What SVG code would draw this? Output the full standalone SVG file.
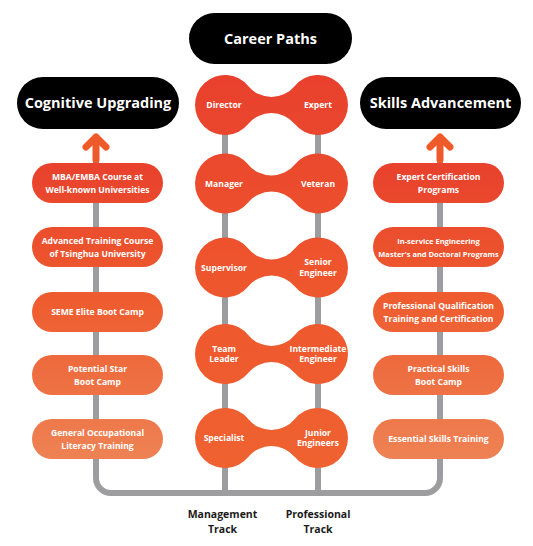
<svg xmlns="http://www.w3.org/2000/svg" width="533" height="546" viewBox="0 0 533 546">
<style>
.title{fill:#000}
.ttext{font-family:"Open Sans","Noto Sans",sans-serif;font-weight:700;font-size:14.5px;fill:#fff;text-anchor:middle}
.ptext{font-family:"Open Sans","Noto Sans",sans-serif;font-weight:700;font-size:8.6px;fill:#fff;text-anchor:middle}
.ctext{font-family:"Open Sans","Noto Sans",sans-serif;font-weight:700;font-size:8.6px;fill:#fff;text-anchor:middle}
.ltext{font-family:"Open Sans","Noto Sans",sans-serif;font-weight:700;font-size:10.5px;fill:#1a1a1a;text-anchor:middle}
.track{fill:none;stroke:#9d9da0;stroke-width:6;stroke-linejoin:round}
.arrow{fill:none;stroke:#ee5a2a;stroke-width:7;stroke-linecap:round;stroke-linejoin:round}
.pill{fill:url(#pillGrad)}
.pair{fill:url(#pairGrad)}
</style>
<defs>
<linearGradient id="pillGrad" gradientUnits="userSpaceOnUse" x1="0" y1="163" x2="0" y2="459">
<stop offset="0" stop-color="#e8412d"/>
<stop offset="0.45" stop-color="#ee5b2e"/>
<stop offset="1" stop-color="#ee8254"/>
</linearGradient>
<linearGradient id="pairGrad" gradientUnits="userSpaceOnUse" x1="0" y1="75" x2="0" y2="468">
<stop offset="0" stop-color="#e8402d"/>
<stop offset="0.5" stop-color="#ee552d"/>
<stop offset="1" stop-color="#ef6230"/>
</linearGradient>
</defs>

<g id="connectors">
<path class="track" d="M96 160 V478 A15 15 0 0 0 111 493 H425 A15 15 0 0 0 440 478 V160"/>
<path class="track" d="M225 110 V493"/>
<path class="track" d="M318 110 V493"/>
<path class="arrow" d="M96 160 V137 M86 147 L96 137 L106 147"/>
<path class="arrow" d="M440 160 V137 M430 147 L440 137 L450 147"/>
</g>

<g id="career-paths">
<rect class="title" x="189" y="13" width="163" height="51" rx="25.5"/>
<text class="ttext" x="270.5" y="44">Career Paths</text>
</g>
<g id="cognitive-upgrading">
<rect class="title" x="17" y="77" width="162" height="52" rx="26"/>
<text class="ttext" x="98" y="108">Cognitive Upgrading</text>
</g>
<g id="skills-advancement">
<rect class="title" x="360" y="77" width="161" height="52" rx="26"/>
<text class="ttext" x="440.5" y="108">Skills Advancement</text>
</g>

<g id="pair-director-expert">
<path class="pair" d="M248.2 85.97 A30.14 30.14 0 0 0 294.8 85.97 A30 30 0 1 1 294.8 124.03 A30.14 30.14 0 0 0 248.2 124.03 A30 30 0 1 1 248.2 85.97 Z"/>
<text class="ctext" x="224" y="108">Director</text>
<text class="ctext" x="318" y="108">Expert</text>
</g>
<g id="pair-manager-veteran">
<path class="pair" d="M248.2 164.47 A30.14 30.14 0 0 0 294.8 164.47 A30 30 0 1 1 294.8 202.53 A30.14 30.14 0 0 0 248.2 202.53 A30 30 0 1 1 248.2 164.47 Z"/>
<text class="ctext" x="224" y="186.5">Manager</text>
<text class="ctext" x="318" y="186.5">Veteran</text>
</g>
<g id="pair-supervisor-senior">
<path class="pair" d="M248.2 248.47 A30.14 30.14 0 0 0 294.8 248.47 A30 30 0 1 1 294.8 286.53 A30.14 30.14 0 0 0 248.2 286.53 A30 30 0 1 1 248.2 248.47 Z"/>
<text class="ctext" x="224" y="270.5">Supervisor</text>
<text class="ctext" x="318" y="264.7">Senior</text>
<text class="ctext" x="318" y="275.5">Engineer</text>
</g>
<g id="pair-teamleader-intermediate">
<path class="pair" d="M248.2 334.97 A30.14 30.14 0 0 0 294.8 334.97 A30 30 0 1 1 294.8 373.03 A30.14 30.14 0 0 0 248.2 373.03 A30 30 0 1 1 248.2 334.97 Z"/>
<text class="ctext" x="224" y="351.5">Team</text>
<text class="ctext" x="224" y="362.3">Leader</text>
<text class="ctext" x="318" y="351.5">Intermediate</text>
<text class="ctext" x="318" y="362.3">Engineer</text>
</g>
<g id="pair-specialist-junior">
<path class="pair" d="M248.2 418.97 A30.14 30.14 0 0 0 294.8 418.97 A30 30 0 1 1 294.8 457.03 A30.14 30.14 0 0 0 248.2 457.03 A30 30 0 1 1 248.2 418.97 Z"/>
<text class="ctext" x="224" y="441">Specialist</text>
<text class="ctext" x="318" y="435.5">Junior</text>
<text class="ctext" x="318" y="446.3">Engineers</text>
</g>

<g id="mba">
<rect class="pill" x="32" y="163" width="131" height="40" rx="20"/>
<text class="ptext" x="97.5" y="179.5">MBA/EMBA Course at</text>
<text class="ptext" x="97.5" y="192.5">Well-known Universities</text>
</g>
<g id="tsinghua">
<rect class="pill" x="32" y="227" width="131" height="40" rx="20"/>
<text class="ptext" x="97.5" y="244">Advanced Training Course</text>
<text class="ptext" x="97.5" y="257">of Tsinghua University</text>
</g>
<g id="seme">
<rect class="pill" x="32" y="292" width="131" height="40" rx="20"/>
<text class="ptext" x="97.5" y="315">SEME Elite Boot Camp</text>
</g>
<g id="potential-star">
<rect class="pill" x="32" y="355" width="131" height="40" rx="20"/>
<text class="ptext" x="97.5" y="371.5">Potential Star</text>
<text class="ptext" x="97.5" y="384.5">Boot Camp</text>
</g>
<g id="general-literacy">
<rect class="pill" x="32" y="419" width="131" height="40" rx="20"/>
<text class="ptext" x="97.5" y="435.5">General Occupational</text>
<text class="ptext" x="97.5" y="448.5">Literacy Training</text>
</g>

<g id="expert-certification">
<rect class="pill" x="373" y="163" width="131" height="40" rx="20"/>
<text class="ptext" x="438.5" y="179.5">Expert Certification</text>
<text class="ptext" x="438.5" y="192.5">Programs</text>
</g>
<g id="in-service">
<rect class="pill" x="373" y="227" width="131" height="40" rx="20"/>
<text class="ptext" x="438.5" y="244" style="font-size:7.5px">In-service Engineering</text>
<text class="ptext" x="438.5" y="256.5" style="font-size:7.5px">Master's and Doctoral Programs</text>
</g>
<g id="professional-qualification">
<rect class="pill" x="373" y="292" width="131" height="40" rx="20"/>
<text class="ptext" x="438.5" y="308.5">Professional Qualification</text>
<text class="ptext" x="438.5" y="321.5">Training and Certification</text>
</g>
<g id="practical-skills">
<rect class="pill" x="373" y="355" width="131" height="40" rx="20"/>
<text class="ptext" x="438.5" y="371.5">Practical Skills</text>
<text class="ptext" x="438.5" y="384.5">Boot Camp</text>
</g>
<g id="essential-skills">
<rect class="pill" x="373" y="419" width="131" height="40" rx="20"/>
<text class="ptext" x="438.5" y="442">Essential Skills Training</text>
</g>

<g id="management-track">
<text class="ltext" x="222.5" y="518">Management</text>
<text class="ltext" x="222.5" y="533">Track</text>
</g>
<g id="professional-track">
<text class="ltext" x="318" y="518">Professional</text>
<text class="ltext" x="318" y="533">Track</text>
</g>
</svg>
